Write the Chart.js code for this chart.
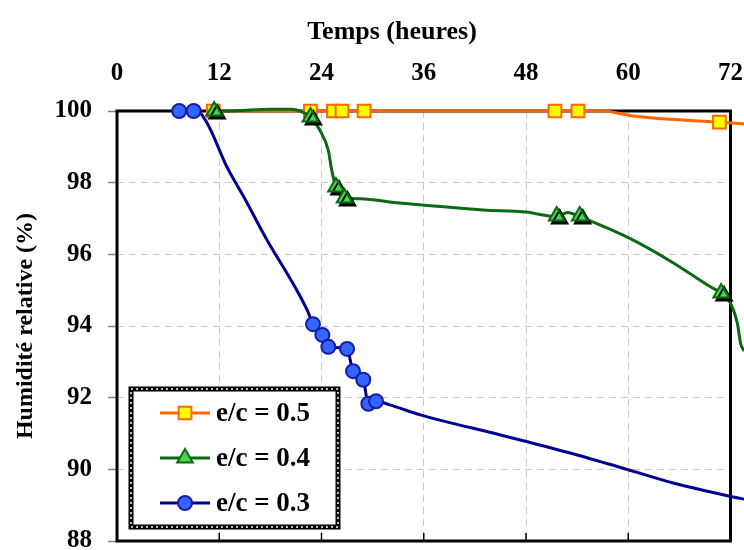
<!DOCTYPE html>
<html>
<head>
<meta charset="utf-8">
<script src="https://cdn.jsdelivr.net/npm/chart.js@4.4.1/dist/chart.umd.min.js"></script>
<style>
  html, body { margin:0; padding:0; background:#fff; overflow:hidden; }
  #chart { position:absolute; left:0; top:0; width:765px; height:572px; }
</style>
</head>
<body>
<canvas id="chart" width="765" height="572"></canvas>
<script>
// ---------- data ----------
const X_TICKS = [0, 12, 24, 36, 48, 60, 72];
const Y_TICKS = [88, 90, 92, 94, 96, 98, 100];

const SERIES_NAMES = ["e/c = 0.5", "e/c = 0.4", "e/c = 0.3"];

// e/c = 0.5 (curve + measured points)
const ec05_t = [11.3, 22.7, 25.4, 26.4, 29.0, 51.4, 54.1, 57.0, 60.3, 65.0, 70.7, 73.6];
const ec05_h = [100, 100, 100, 100, 100, 100, 100, 100, 99.87, 99.77, 99.69, 99.64];
const ec05_mark_t = [11.3, 22.7, 25.4, 26.4, 29.0, 51.4, 54.1, 70.7];
const ec05_mark_h = [100, 100, 100, 100, 100, 100, 100, 99.69];

// e/c = 0.4
const ec04_t = [11.4, 14.0, 18.0, 20.5, 21.5, 22.7, 23.8, 24.8, 25.2, 25.7, 26.7, 28.5, 33.2, 43.0, 48.0, 51.6, 52.9, 54.3, 60.3, 65.3, 69.6, 70.9, 72.0, 72.8, 73.2, 73.6];
const ec04_h = [100, 100.01, 100.05, 100.05, 100, 99.83, 99.47, 98.9, 98.35, 97.88, 97.57, 97.55, 97.43, 97.24, 97.18, 97.05, 97.17, 97.05, 96.43, 95.76, 95.1, 94.92, 94.64, 94.08, 93.5, 93.3];
const ec04_mark_t = [11.4, 22.7, 25.7, 26.7, 51.6, 54.3, 70.9];
const ec04_mark_h = [100, 99.83, 97.88, 97.57, 97.07, 97.07, 94.92];

// e/c = 0.3
const ec03_t = [7.3, 9.0, 9.4, 10.6, 12.9, 15.0, 17.6, 20.0, 21.1, 22.4, 23.0, 24.1, 24.8, 27.0, 27.7, 28.9, 29.5, 30.4, 32.0, 35.6, 45.0, 47.8, 54.0, 60.0, 65.4, 72.3, 73.6];
const ec03_h = [100, 100, 100, 99.65, 98.44, 97.55, 96.4, 95.45, 95.0, 94.4, 94.05, 93.75, 93.42, 93.36, 92.74, 92.5, 91.83, 91.9, 91.8, 91.52, 90.96, 90.79, 90.4, 89.99, 89.61, 89.23, 89.17];
const ec03_mark_t = [7.3, 9.0, 23.0, 24.1, 24.8, 27.0, 27.7, 28.9, 29.5, 30.4];
const ec03_mark_h = [100, 100, 94.05, 93.75, 93.42, 93.36, 92.74, 92.5, 91.83, 91.9];

// ---------- styles ----------
const FONT = "'Liberation Serif', 'Times New Roman', serif";
const STYLES = [
  { line:"#ff6600", fill:"#ffff00", border:"#ff6600", point:"rect", radius:9 },
  { line:"#0a6a12", fill:"#44d84c", border:"#0a6a12", point:"triangle", radius:9, shadow:true },
  { line:"#000090", fill:"#3366ff", border:"#1a1aa8", point:"circle", radius:7 },
];

const pts = (t, h) => t.map((v, i) => ({ x: v, y: h[i] }));

function lineSet(t, h, st, order){
  return {
    data: pts(t, h), borderColor: st.line, borderWidth: 3,
    pointRadius: 0, showLine: true, fill: false,
    cubicInterpolationMode: "monotone", clip: false, order
  };
}
function markSet(t, h, st, order){
  return {
    data: pts(t, h), showLine: false, pointStyle: st.point,
    pointRadius: st.radius, pointBackgroundColor: st.fill,
    pointBorderColor: st.border, pointBorderWidth: 2,
    clip: false, order, shadow: !!st.shadow
  };
}

const datasets = [
  markSet(ec03_mark_t, ec03_mark_h, STYLES[2], 0),
  lineSet(ec03_t, ec03_h, STYLES[2], 1),
  markSet(ec04_mark_t, ec04_mark_h, STYLES[1], 2),
  lineSet(ec04_t, ec04_h, STYLES[1], 3),
  markSet(ec05_mark_t, ec05_mark_h, STYLES[0], 4),
  lineSet(ec05_t, ec05_h, STYLES[0], 5),
];

// pin an axis to the first/last value of its tick list
function pinRange(list){
  return s => {
    s.ticks = list.map(v => ({ value: v }));
    s.min = list[0];
    s.max = list[list.length - 1];
  };
}

// frame, inner bottom ticks, marker shadow, top title, boxed legend
const decor = {
  id: "decor",
  beforeDatasetsDraw(chart){
    const { ctx, chartArea: a, scales } = chart;
    ctx.save();
    ctx.strokeStyle = "#000";
    ctx.lineWidth = 1.5;
    X_TICKS.slice(1, -1).forEach(v => {
      const x = scales.x.getPixelForValue(v);
      ctx.beginPath(); ctx.moveTo(x, a.bottom); ctx.lineTo(x, a.bottom - 8); ctx.stroke();
    });
    ctx.lineWidth = 3;
    ctx.strokeRect(a.left, a.top, a.right - a.left, a.bottom - a.top);
    ctx.restore();
  },
  beforeDatasetDraw(chart, args){
    const ds = chart.data.datasets[args.index];
    chart.ctx.save();
    if(ds.shadow){
      chart.ctx.shadowColor = "#000";
      chart.ctx.shadowOffsetX = 3;
      chart.ctx.shadowOffsetY = 3;
      chart.ctx.shadowBlur = 0;
    }
  },
  afterDatasetDraw(chart){
    chart.ctx.restore();
  },
  afterDraw(chart){
    const ctx = chart.ctx;
    ctx.save();
    ctx.fillStyle = "#000";
    ctx.font = "bold 26px " + FONT;
    ctx.textAlign = "center";
    ctx.textBaseline = "middle";
    ctx.fillText("Temps (heures)", 392, 32);

    // legend box
    const bx = 131, by = 389, bw = 207, bh = 138;
    ctx.fillStyle = "#fff";
    ctx.fillRect(bx, by, bw, bh);
    ctx.strokeStyle = "#000"; ctx.lineWidth = 5;
    ctx.strokeRect(bx, by, bw, bh);
    ctx.strokeStyle = "#fff"; ctx.lineWidth = 1.5; ctx.setLineDash([2, 3]);
    ctx.strokeRect(bx, by, bw, bh);
    ctx.setLineDash([]);

    const rows = [413, 458, 503];
    SERIES_NAMES.forEach((name, i) => {
      const st = STYLES[i], y = rows[i];
      ctx.strokeStyle = st.line; ctx.lineWidth = 3;
      ctx.beginPath(); ctx.moveTo(160, y); ctx.lineTo(210, y); ctx.stroke();
      ctx.fillStyle = st.fill; ctx.strokeStyle = st.border; ctx.lineWidth = 2;
      Chart.helpers.drawPoint(ctx, { pointStyle: st.point, radius: st.radius, rotation: 0, borderWidth: 2 }, 185, y);
      ctx.fillStyle = "#000";
      ctx.font = "bold 27px " + FONT;
      ctx.textAlign = "left";
      ctx.fillText(name, 216, y + 1);
    });
    ctx.restore();
  }
};

new Chart(document.getElementById("chart"), {
  type: "scatter",
  data: { datasets },
  plugins: [decor],
  options: {
    responsive: false,
    animation: false,
    devicePixelRatio: 1,
    layout: { padding: 0 },
    plugins: { legend: { display: false }, tooltip: { enabled: false } },
    scales: {
      x: {
        type: "linear", position: "top", bounds: "data",
        afterBuildTicks: pinRange(X_TICKS),
        afterFit: s => { s.height = 111; },
        border: { display: false, dash: [7, 5] },
        grid: { color: "#c8c8c8", drawTicks: false, lineWidth: 1 },
        ticks: { color: "#000", padding: 22, font: { family: FONT, size: 25, weight: "bold" } }
      },
      y: {
        type: "linear", bounds: "data",
        afterBuildTicks: pinRange(Y_TICKS),
        afterFit: s => { s.width = 117; },
        border: { display: false, dash: [7, 5] },
        grid: { color: "#c8c8c8", tickColor: "#808080", tickBorderDash: [], tickLength: 9, lineWidth: 1, tickWidth: 1.5 },
        ticks: { color: "#000", padding: 16, font: { family: FONT, size: 25, weight: "bold" } },
        title: { display: true, text: "Humidité relative (%)", color: "#000", padding: { top: 11, bottom: 0 },
                 font: { family: FONT, size: 24, weight: "bold" } }
      }
    }
  }
});
</script>
</body>
</html>
